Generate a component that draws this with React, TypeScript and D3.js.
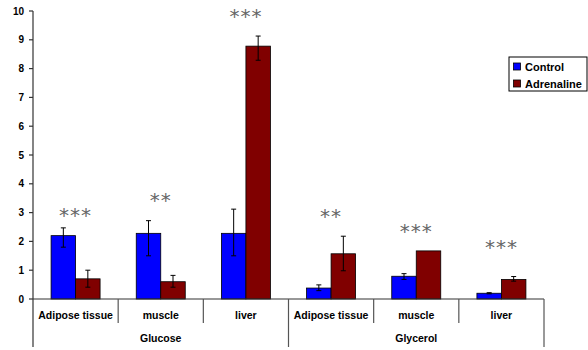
import React from "react";
import * as d3 from "d3";

const categories = ["Adipose tissue", "muscle", "liver", "Adipose tissue", "muscle", "liver"];
const groups = ["Glucose", "Glycerol"];
const groupSizes = [3, 3];
const seriesNames = ["Control", "Adrenaline"];
const seriesColors = ["#0000FF", "#800000"];
const controlValues = [2.2, 2.28, 2.28, 0.38, 0.79, 0.2];
const controlErrLow = [1.8, 1.5, 1.5, 0.29, 0.68, 0.18];
const controlErrHigh = [2.47, 2.72, 3.12, 0.49, 0.88, 0.22];
const adrenalineValues = [0.7, 0.6, 8.78, 1.57, 1.67, 0.68];
const adrenalineErrLow = [0.41, 0.41, 8.29, 0.98, 1.67, 0.62];
const adrenalineErrHigh = [1.0, 0.82, 9.13, 2.18, 1.67, 0.78];
const sigLabels = ["***", "**", "***", "**", "***", "***"];
const sigLevels = [3.06, 3.56, 9.97, 3.02, 2.5, 1.94];
const yTicks = [0, 1, 2, 3, 4, 5, 6, 7, 8, 9, 10];

const FONT = "Liberation Sans, Arial, sans-serif";

export default function App() {
  const left = 33, right = 544, top = 11, bottom = 299;
  const y = d3.scaleLinear().domain([0, 10]).range([bottom, top]);
  const x = d3.scaleBand<number>().domain(d3.range(categories.length)).range([left, right]).padding(0);
  const inner = d3.scaleBand<number>().domain([0, 1]).range([0, 49]);
  const groupOffset = (x.bandwidth() - 49) / 2;

  const series = [
    { values: controlValues, lo: controlErrLow, hi: controlErrHigh },
    { values: adrenalineValues, lo: adrenalineErrLow, hi: adrenalineErrHigh },
  ];

  const groupStarts: number[] = [];
  let acc = 0;
  groupSizes.forEach((g) => { groupStarts.push(acc); acc += g; });

  return (
    <svg width={588} height={350} style={{ position: "absolute", left: 0, top: 0, background: "#fff" }} fontFamily={FONT}>
      <rect x={0} y={0} width={588} height={350} fill="#fff" />
      <line x1={left} x2={left} y1={top} y2={347} stroke="#333" strokeWidth={1.2} />
      {yTicks.map((t) => (
        <g key={t}>
          <line x1={left - 4} x2={left} y1={y(t)} y2={y(t)} stroke="#333" strokeWidth={1.2} />
          <text x={24} y={y(t) + 3.5} textAnchor="end" fontSize={10} fontWeight="bold" fill="#000">{t}</text>
        </g>
      ))}
      {categories.map((c, i) => (
        <g key={i}>
          {series.map((s, k) => {
            const bx = (x(i) as number) + groupOffset + (inner(k) as number);
            const bw = inner.bandwidth();
            const cx = bx + bw / 2;
            const showErr = s.hi[i] - s.lo[i] > 0.001;
            return (
              <g key={k}>
                <rect x={bx} y={y(s.values[i])} width={bw} height={y(0) - y(s.values[i])} fill={seriesColors[k]} stroke="#000" strokeWidth={0.8} />
                {showErr && (
                  <g stroke="#000" strokeWidth={1}>
                    <line x1={cx} x2={cx} y1={y(s.hi[i])} y2={y(s.lo[i])} />
                    <line x1={cx - 2.5} x2={cx + 2.5} y1={y(s.hi[i])} y2={y(s.hi[i])} />
                    <line x1={cx - 2.5} x2={cx + 2.5} y1={y(s.lo[i])} y2={y(s.lo[i])} />
                  </g>
                )}
              </g>
            );
          })}
          <text x={(x(i) as number) + x.bandwidth() / 2} y={y(sigLevels[i]) + 11} textAnchor="middle" fontSize={20} fill="#666" letterSpacing={1} fontFamily="DejaVu Sans, sans-serif">{sigLabels[i]}</text>
          <text x={(x(i) as number) + x.bandwidth() / 2} y={319} textAnchor="middle" fontSize={10.5} fontWeight="bold" fill="#000">{c}</text>
        </g>
      ))}
      <line x1={left} x2={right} y1={bottom} y2={bottom} stroke="#333" strokeWidth={1.2} />
      {d3.range(1, categories.length + 1).map((i) => {
        const isGroup = groupStarts.includes(i) || i === categories.length;
        const xx = i === categories.length ? right : (x(i) as number);
        return <line key={i} x1={xx} x2={xx} y1={bottom} y2={isGroup ? 347 : 323} stroke="#555" strokeWidth={1.2} />;
      })}
      {groups.map((g, gi) => {
        const s = groupStarts[gi];
        const e = s + groupSizes[gi];
        const x0 = x(s) as number;
        const x1 = e === categories.length ? right : (x(e) as number);
        return <text key={g} x={(x0 + x1) / 2} y={342} textAnchor="middle" fontSize={10.5} fontWeight="bold" fill="#000">{g}</text>;
      })}
      <rect x={509} y={57} width={78} height={34} fill="#fff" stroke="#000" strokeWidth={1} />
      {seriesNames.map((n, k) => (
        <g key={n}>
          <rect x={513.5} y={63 + k * 17} width={7} height={7} fill={seriesColors[k]} stroke="#000" strokeWidth={0.8} />
          <text x={525} y={70.5 + k * 17} fontSize={11} fontWeight="bold" fill="#000">{n}</text>
        </g>
      ))}
    </svg>
  );
}
